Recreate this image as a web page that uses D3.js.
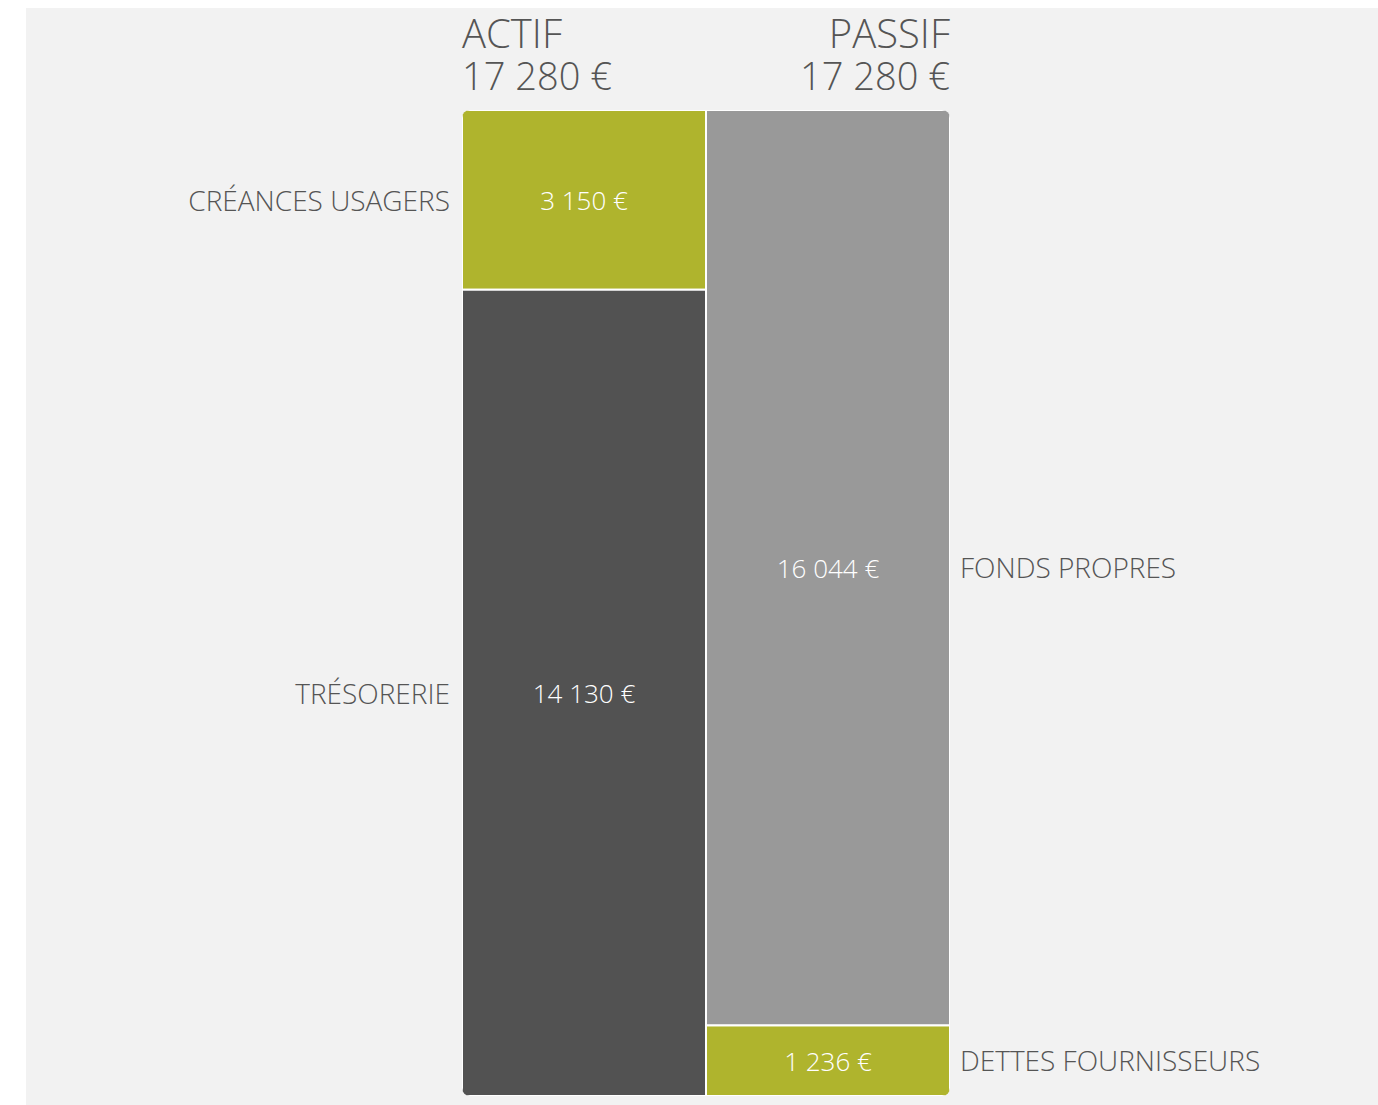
<!DOCTYPE html>
<html>
<head>
<meta charset="utf-8">
<script src="https://cdn.jsdelivr.net/npm/d3@7"></script>
<style>
  body { margin: 0; background: #fff; }
  svg text { font-family: "Open Sans", sans-serif; font-weight: 300; }
</style>
</head>
<body>
<div class="graph"></div>
<script>
const w = 1378;
const h = 1105;

// data
const columns = ["ACTIF", "PASSIF"];
const totals = [17280, 17280];
const actifLabels = ["CRÉANCES USAGERS", "TRÉSORERIE"];
const actifValues = [3150, 14130];
const passifLabels = ["FONDS PROPRES", "DETTES FOURNISSEURS"];
const passifValues = [16044, 1236];
const colors = {"CRÉANCES USAGERS": "#afb42d", "TRÉSORERIE": "#525252",
                "FONDS PROPRES": "#999999", "DETTES FOURNISSEURS": "#afb42d"};

const fmt = v => d3.format(",")(v).replace(/,/g, " ") + " €";

const x = d3.scaleBand()
            .domain(columns)
            .range([462, 950])
            .paddingInner(0);

const y = d3.scaleLinear()
            .domain([0, d3.max(totals)])
            .range([110, 1096]);

const canvas = d3.select(".graph")
                 .append("svg")
                 .attr("width", w)
                 .attr("height", h);

canvas.append("rect")
      .attr("x", 26).attr("y", 8)
      .attr("width", w - 26).attr("height", h - 8)
      .attr("fill", "#f2f2f2");

canvas.append("clipPath")
      .attr("id", "clip")
      .append("rect")
      .attr("x", x.range()[0]).attr("y", y(0))
      .attr("width", x.range()[1] - x.range()[0])
      .attr("height", y(d3.max(totals)) - y(0))
      .attr("rx", 8);

function stack(labels, values, col) {
  let acc = 0;
  return labels.map((l, i) => {
    const d = {label: l, value: values[i], col: col, y0: acc, y1: acc + values[i]};
    acc += values[i];
    return d;
  });
}
const segments = stack(actifLabels, actifValues, "ACTIF")
                 .concat(stack(passifLabels, passifValues, "PASSIF"));

const bars = canvas.append("g").attr("clip-path", "url(#clip)");

bars.selectAll("rect")
    .data(segments)
    .enter().append("rect")
    .attr("x", d => x(d.col))
    .attr("y", d => y(d.y0))
    .attr("width", x.bandwidth())
    .attr("height", d => y(d.y1) - y(d.y0))
    .attr("fill", d => colors[d.label])
    .attr("stroke", "#ffffff")
    .attr("stroke-width", 2);

// value labels
canvas.append("g").selectAll("text")
      .data(segments)
      .enter().append("text")
      .attr("x", d => x(d.col) + x.bandwidth() / 2)
      .attr("y", d => (y(d.y0) + y(d.y1)) / 2)
      .attr("dy", "0.38em")
      .attr("text-anchor", "middle")
      .attr("fill", "#ffffff")
      .attr("font-size", 26)
      .text(d => fmt(d.value));

// category labels
canvas.append("g").selectAll("text")
      .data(segments)
      .enter().append("text")
      .attr("x", d => d.col === "ACTIF" ? x(d.col) - 12 : x(d.col) + x.bandwidth() + 10)
      .attr("y", d => (y(d.y0) + y(d.y1)) / 2)
      .attr("dy", "0.38em")
      .attr("text-anchor", d => d.col === "ACTIF" ? "end" : "start")
      .attr("fill", "#555555")
      .attr("font-size", 28)
      .text(d => d.label);

// headers (two lines in one text)
const head = canvas.append("g").selectAll("text")
                   .data(columns)
                   .enter().append("text")
                   .attr("text-anchor", d => d === "ACTIF" ? "start" : "end")
                   .attr("fill", "#555555");
head.append("tspan")
    .attr("x", d => d === "ACTIF" ? x(d) : x(d) + x.bandwidth())
    .attr("y", 48)
    .attr("font-size", 40)
    .text(d => d);
head.append("tspan")
    .attr("x", d => d === "ACTIF" ? x(d) : x(d) + x.bandwidth())
    .attr("y", 90)
    .attr("font-size", 38)
    .text((d, i) => fmt(totals[i]));
</script>
</body>
</html>
